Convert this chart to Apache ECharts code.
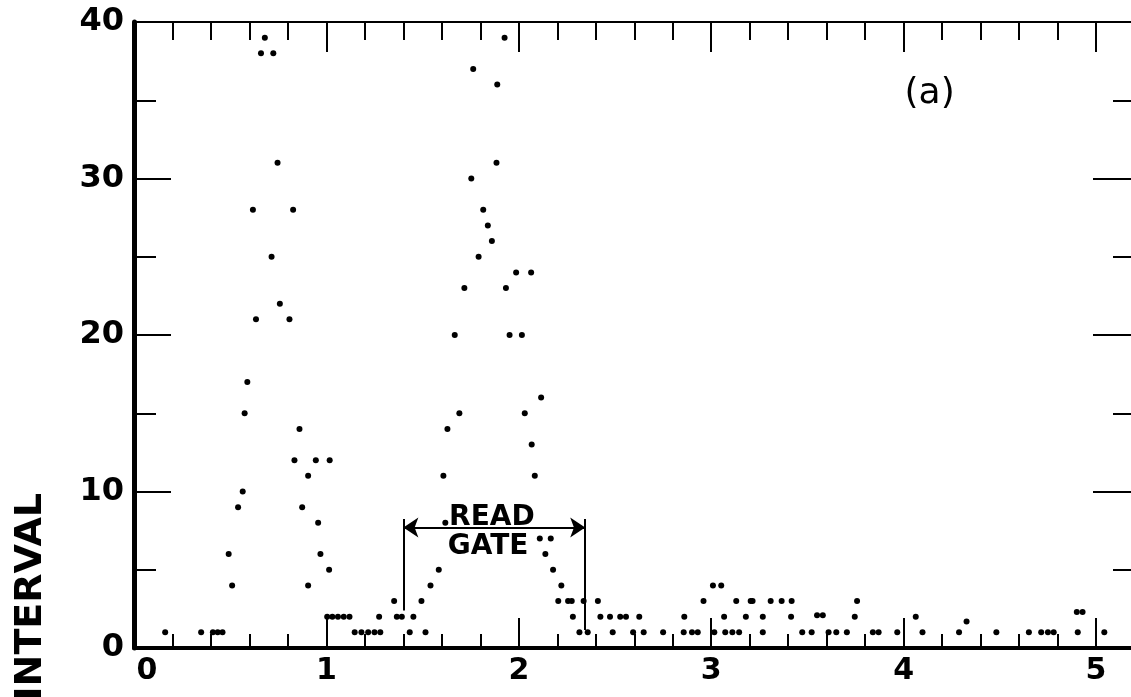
<!DOCTYPE html>
<html lang="en">
<head>
<meta charset="UTF-8">
<title>Interval</title>
<script src="https://cdn.jsdelivr.net/npm/echarts@6/dist/echarts.min.js"></script>
<style>
  html, body { margin: 0; padding: 0; background: #fff; }
  #main { width: 1131px; height: 697px; }
</style>
</head>
<body>
<div id="main"></div>
<script>
// points: [x, interval]
var peakOne = [
  [0.492, 6], [0.510, 4], [0.541, 9], [0.565, 10], [0.575, 15], [0.589, 17],
  [0.618, 28], [0.634, 21], [0.660, 38], [0.680, 39], [0.715, 25], [0.724, 38],
  [0.746, 31], [0.758, 22], [0.808, 21], [0.827, 28], [0.834, 12], [0.860, 14],
  [0.874, 9], [0.905, 11], [0.905, 4], [0.945, 12], [0.957, 8], [0.969, 6],
  [1.014, 5], [1.017, 12]
];
var peakTwo = [
  [1.352, 3], [1.494, 3], [1.541, 4], [1.584, 5], [1.608, 11], [1.618, 8],
  [1.629, 14], [1.667, 20], [1.691, 15], [1.717, 23], [1.753, 30], [1.763, 37],
  [1.791, 25], [1.815, 28], [1.839, 27], [1.860, 26], [1.884, 31], [1.888, 36],
  [1.926, 39], [1.933, 23], [1.952, 20], [1.986, 24], [2.016, 20], [2.031, 15],
  [2.064, 24], [2.067, 13], [2.083, 11], [2.109, 7], [2.116, 16], [2.138, 6],
  [2.166, 7], [2.178, 5], [2.205, 3], [2.221, 4], [2.256, 3], [2.275, 3],
  [2.337, 3], [2.411, 3]
];
var rowOne = [
  [0.162, 1], [0.349, 1], [0.41, 1], [0.435, 1], [0.46, 1], [1.147, 1],
  [1.182, 1], [1.217, 1], [1.25, 1], [1.28, 1], [1.433, 1], [1.515, 1],
  [2.315, 1], [2.358, 1], [2.488, 1], [2.594, 1], [2.649, 1], [2.750, 1],
  [2.857, 1], [2.90, 1], [2.93, 1], [3.016, 1], [3.073, 1], [3.11, 1],
  [3.145, 1], [3.268, 1], [3.473, 1], [3.522, 1], [3.61, 1], [3.65, 1],
  [3.705, 1], [3.84, 1], [3.87, 1], [3.967, 1], [4.098, 1], [4.288, 1],
  [4.482, 1], [4.651, 1], [4.715, 1], [4.75, 1], [4.78, 1], [4.905, 1],
  [5.043, 1]
];
var rowTwo = [
  [1.004, 2], [1.031, 2], [1.06, 2], [1.09, 2], [1.12, 2], [1.274, 2],
  [1.366, 2], [1.392, 2], [1.452, 2], [2.281, 2], [2.424, 2], [2.474, 2],
  [2.527, 2], [2.557, 2], [2.626, 2], [2.860, 2], [3.067, 2], [3.180, 2],
  [3.268, 2], [3.415, 2], [3.55, 2.1], [3.58, 2.1], [3.746, 2], [4.063, 2],
  [4.327, 1.7], [4.90, 2.3], [4.93, 2.3]
];
var rowThree = [
  [2.960, 3], [3.130, 3], [3.205, 3], [3.215, 3], [3.309, 3], [3.366, 3],
  [3.418, 3], [3.758, 3]
];
var rowFour = [[3.009, 4], [3.052, 4]];

var xTicks = ['0', '1', '2', '3', '4', '5'];
var gateX = [1.40, 2.345];
var gateArrowY = 7.7;
var gateTop = 8.25;
var gateBottom = [2.4, 1.15];

var myChart = echarts.init(document.getElementById('main'));

var ink = '#000';
var font = '"DejaVu Sans", sans-serif';

function dots(data) {
  return {
    type: 'scatter',
    data: data,
    symbolSize: 6,
    itemStyle: { color: ink, opacity: 1 },
    silent: true
  };
}

var series = [dots(peakOne), dots(peakTwo), dots(rowOne), dots(rowTwo), dots(rowThree), dots(rowFour)];
series[0].markLine = {
  silent: true,
  symbolSize: 15,
  label: { show: false },
  lineStyle: { color: ink, width: 2, type: 'solid', opacity: 1 },
  data: [
    [{ coord: [gateX[0], gateTop], symbol: 'none' }, { coord: [gateX[0], gateBottom[0]], symbol: 'none' }],
    [{ coord: [gateX[1], gateTop], symbol: 'none' }, { coord: [gateX[1], gateBottom[1]], symbol: 'none' }],
    [{ coord: [gateX[0], gateArrowY], symbol: 'arrow' }, { coord: [gateX[1], gateArrowY], symbol: 'arrow' }]
  ]
};

var tickStyle = { color: ink, width: 2 };

// the frame runs past the right edge of the picture, so the x range goes on past 5.2
var option = {
  animation: false,
  grid: { left: 134, right: -42, top: 22, bottom: 49, outerBoundsMode: 'none', containLabel: false },
  xAxis: [{
    type: 'value', min: 0, max: 5.4, interval: 1,
    position: 'bottom',
    axisLine: { onZero: false, lineStyle: { color: ink, width: 4 } },
    axisTick: { inside: true, length: 30, lineStyle: tickStyle },
    minorTick: { show: true, splitNumber: 5, length: 14, lineStyle: tickStyle },
    splitLine: { show: false },
    axisLabel: {
      margin: 8, color: ink, fontSize: 30, fontWeight: 'bold', fontFamily: font,
      formatter: function (v) {
        var i = Math.round(v);
        if (Math.abs(v - i) > 1e-6 || !xTicks[i]) return '';
        return i === 0 ? '{z|' + xTicks[i] + '}' : xTicks[i];
      },
      rich: { z: { padding: [0, 0, 0, 26], fontSize: 30, fontWeight: 'bold', fontFamily: font, color: ink } }
    }
  }, {
    type: 'value', min: 0, max: 5.4, interval: 1,
    position: 'top',
    axisLine: { onZero: false, lineStyle: { color: ink, width: 2 } },
    axisTick: { inside: true, length: 30, lineStyle: tickStyle },
    minorTick: { show: true, splitNumber: 5, length: 18, lineStyle: tickStyle },
    splitLine: { show: false },
    axisLabel: { show: false }
  }],
  yAxis: [{
    type: 'value', min: 0, max: 40, interval: 10,
    position: 'left',
    axisLine: { onZero: false, lineStyle: { color: ink, width: 5 } },
    axisTick: { inside: true, length: 37, lineStyle: tickStyle },
    minorTick: { show: true, splitNumber: 2, length: 22, lineStyle: tickStyle },
    splitLine: { show: false },
    axisLabel: { margin: 10, color: ink, fontSize: 32, fontWeight: 'bold', fontFamily: font }
  }, {
    type: 'value', min: 0, max: 40, interval: 10,
    position: 'right', offset: -42,
    axisLine: { show: false, onZero: false },
    axisTick: { show: true, inside: true, length: 38, lineStyle: tickStyle },
    minorTick: { show: true, splitNumber: 2, length: 18, lineStyle: tickStyle },
    splitLine: { show: false },
    axisLabel: { show: false }
  }],
  series: series
};
myChart.setOption(option);

// annotation texts placed at data positions
function px(x, y) { return myChart.convertToPixel({ gridIndex: 0 }, [x, y]); }
var readPos = px(1.86, 8.3);
var gatePos = px(1.84, 6.45);
var tagPos = px(4.135, 35.4);

function label(text, p, size, weight) {
  return {
    type: 'text', x: p[0], y: p[1], silent: true,
    style: {
      text: text, fill: ink, fontSize: size, fontWeight: weight || 'normal', fontFamily: font,
      align: 'center', verticalAlign: 'middle', textAlign: 'center', textVerticalAlign: 'middle'
    }
  };
}

myChart.setOption({
  graphic: [
    label('READ', readPos, 28, 'bold'),
    label('GATE', gatePos, 28, 'bold'),
    label('(a)', tagPos, 36),
    {
      type: 'text', x: 31, y: 493, rotation: Math.PI / 2, silent: true,
      style: {
        text: 'INTERVAL', fill: ink, fontSize: 38, fontWeight: 'bold', fontFamily: font,
        align: 'right', verticalAlign: 'middle', textAlign: 'right', textVerticalAlign: 'middle'
      }
    }
  ]
});
</script>
</body>
</html>
